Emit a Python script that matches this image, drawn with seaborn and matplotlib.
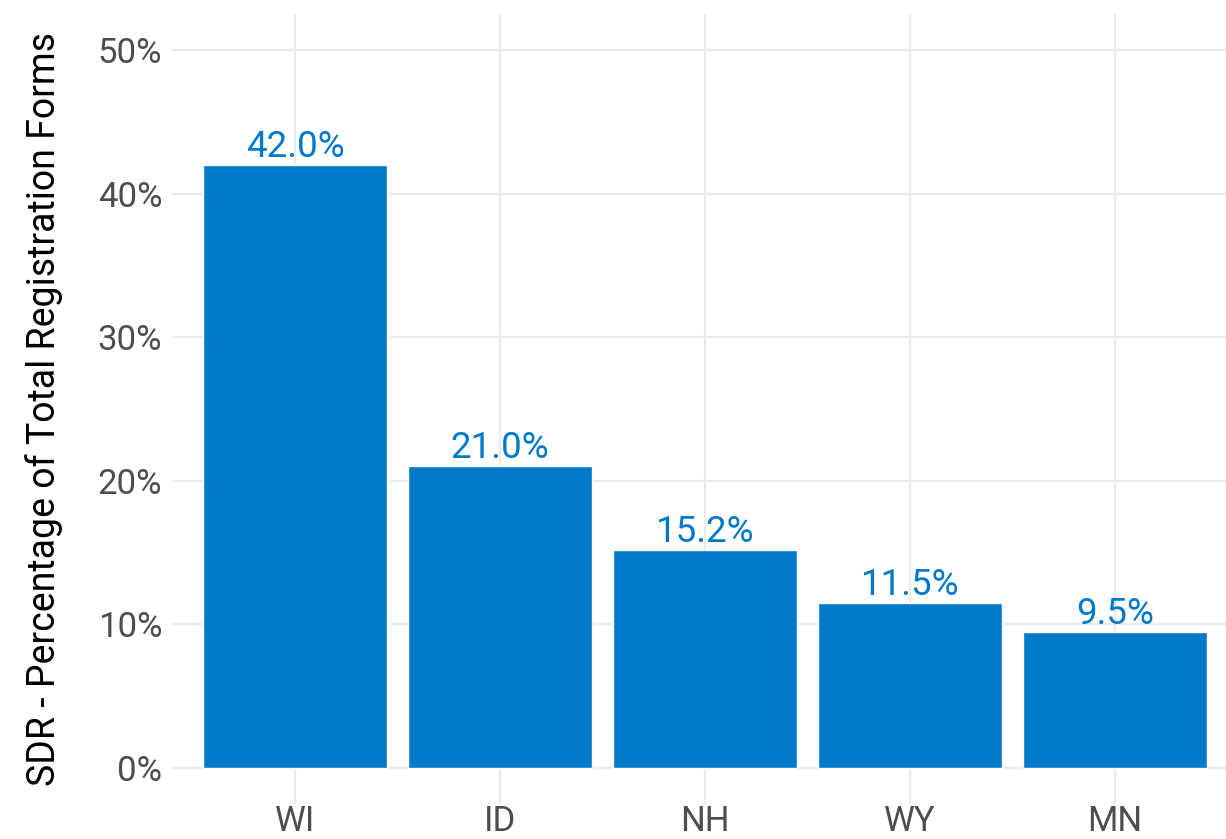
import pandas as pd
import matplotlib
matplotlib.use("Agg")
import matplotlib.pyplot as plt
import seaborn as sns
from matplotlib.ticker import PercentFormatter

# -----------------------------
# Data (share of same-day registrations)
# -----------------------------
states = ["WI", "ID", "NH", "WY", "MN"]
sdr_share = [0.420, 0.210, 0.152, 0.115, 0.095]
y_ticks = [0.0, 0.1, 0.2, 0.3, 0.4, 0.5]

df = pd.DataFrame({"state": states, "share": sdr_share})

bar_color = "#007AC8"
grid_color = "#EBEBEB"
text_grey = "#4D4D4D"

sns.set_theme(style="whitegrid", rc={
    "grid.color": grid_color,
    "grid.linewidth": 1.6,
    "axes.edgecolor": "white",
})
plt.rcParams["font.family"] = ["Roboto", "DejaVu Sans"]

fig = plt.figure(figsize=(12.26, 8.39), dpi=100)
ax = fig.add_axes([0.1403, 0.0417, 0.8695, 0.9416])

sns.barplot(data=df, x="state", y="share", color=bar_color, width=0.9,
            saturation=1, ax=ax, zorder=3)

for c in ax.containers:
    ax.bar_label(c, labels=[f"{v * 100:.1f}%" for v in sdr_share],
                 color=bar_color, fontsize=26.5, padding=0)

ax.set_xlim(-0.6, len(states) - 0.4)
ax.set_ylim(-0.025, 0.525)
ax.set_yticks(y_ticks)
ax.yaxis.set_major_formatter(PercentFormatter(1.0, decimals=0))
ax.grid(True, axis="both", zorder=0)
ax.set_axisbelow(True)
for s in ax.spines.values():
    s.set_visible(False)

ax.tick_params(axis="both", length=0, labelsize=25, labelcolor=text_grey)
ax.tick_params(axis="y", pad=7)
# keep the state labels fully inside the bottom edge
ax.tick_params(axis="x", pad=1)
ax.set_xlabel("")
ax.set_ylabel("SDR - Percentage of Total Registration Forms", fontsize=27,
              color="black", labelpad=25)

fig.savefig("out.png", dpi=100)
